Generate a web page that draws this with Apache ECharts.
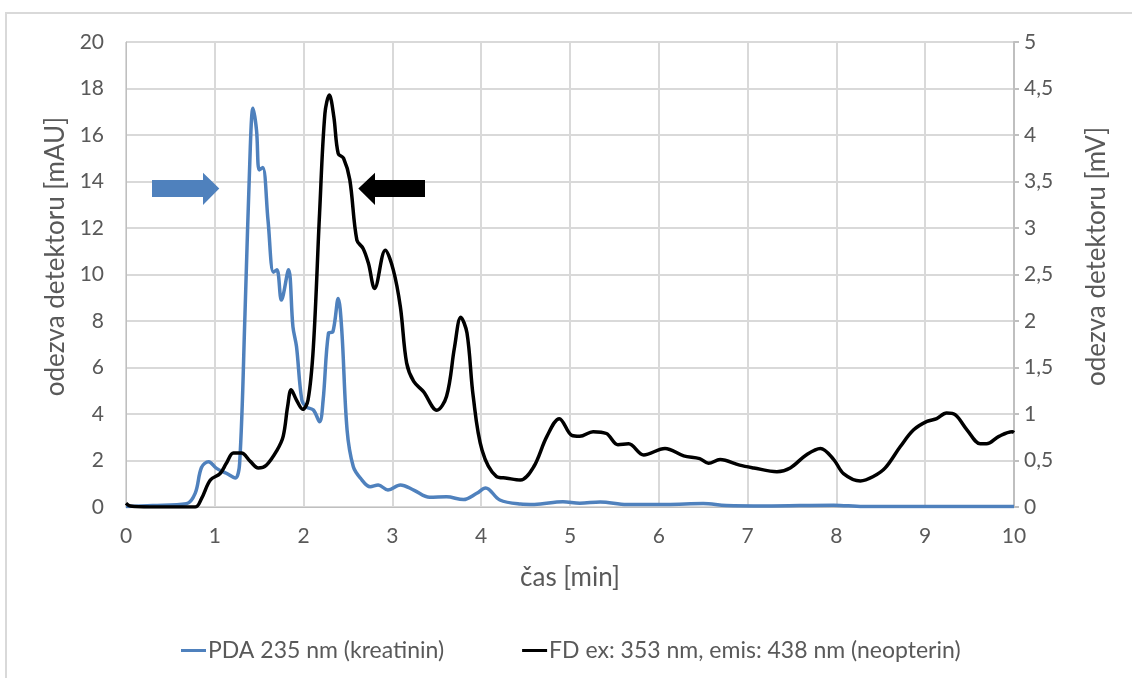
<!DOCTYPE html>
<html>
<head>
<meta charset="utf-8">
<script src="https://cdn.jsdelivr.net/npm/echarts@6/dist/echarts.min.js"></script>
<style>html,body{margin:0;padding:0;background:#fff}#c{width:1132px;height:678px}</style>
</head>
<body>
<div id="c"></div>
<script>
// ---- data ----
const pdaName = 'PDA 235 nm (kreatinin)';
const fdName = 'FD ex: 353 nm, emis: 438 nm (neopterin)';
const pdaTime = [0,0.3,0.68,0.78,0.85,0.93,1.02,1.13,1.23,1.28,1.34,1.40,1.43,1.47,1.50,1.54,1.60,1.66,1.70,1.75,1.83,1.88,1.92,1.98,2.03,2.11,2.18,2.22,2.28,2.33,2.39,2.43,2.49,2.56,2.64,2.75,2.84,2.95,3.09,3.24,3.42,3.61,3.80,3.95,4.05,4.21,4.44,4.60,4.92,5.11,5.34,5.64,6.09,6.50,6.76,7.2,7.97,8.3,10];
const pdaValues = [0.02,0.06,0.14,0.6,1.7,1.95,1.66,1.45,1.25,1.9,8.3,15.5,17.15,16.2,14.5,14.6,12.3,10.1,10.2,8.9,10.2,7.75,6.9,4.6,4.3,4.17,3.67,4.6,7.47,7.54,8.97,7.6,3.3,1.73,1.24,0.87,0.95,0.73,0.95,0.73,0.42,0.44,0.32,0.59,0.82,0.3,0.13,0.11,0.23,0.16,0.22,0.11,0.11,0.15,0.06,0.04,0.08,0.02,0.02];
const fdTime = [0,0.05,0.27,0.78,0.85,0.95,1.06,1.13,1.21,1.30,1.40,1.49,1.58,1.70,1.77,1.82,1.86,1.92,1.99,2.05,2.11,2.18,2.24,2.29,2.34,2.39,2.45,2.52,2.60,2.67,2.73,2.80,2.92,3.01,3.09,3.16,3.24,3.35,3.50,3.61,3.70,3.77,3.84,3.91,4.01,4.17,4.29,4.44,4.59,4.74,4.88,5.02,5.11,5.26,5.41,5.54,5.66,5.83,6.07,6.28,6.46,6.56,6.69,6.91,7.07,7.33,7.48,7.66,7.82,7.97,8.08,8.27,8.42,8.55,8.72,8.87,9.02,9.13,9.24,9.34,9.47,9.62,9.69,9.83,9.98,10];
const fdValues = [0.04,0.01,0,0,0.09,0.29,0.36,0.47,0.58,0.58,0.49,0.42,0.45,0.61,0.76,1.08,1.26,1.15,1.05,1.15,1.72,3.16,4.23,4.43,4.2,3.8,3.75,3.52,2.87,2.78,2.62,2.35,2.76,2.55,2.15,1.55,1.35,1.24,1.04,1.19,1.72,2.04,1.87,1.19,0.61,0.33,0.31,0.29,0.43,0.76,0.95,0.77,0.76,0.81,0.79,0.67,0.68,0.56,0.63,0.55,0.52,0.47,0.51,0.45,0.42,0.38,0.42,0.56,0.63,0.51,0.36,0.28,0.33,0.42,0.65,0.83,0.92,0.95,1.01,0.99,0.83,0.68,0.68,0.76,0.81,0.8];
const xTicks = {min: 0, max: 10, interval: 1};
const leftTicks = {min: 0, max: 20, interval: 2};
const rightTicks = {min: 0, max: 5, interval: 0.5};

const zip = (a, b) => a.map((t, i) => [t, b[i]]);
const FONT = 'Lato, "Open Sans", sans-serif';
const TXT = '#595959';
const GRID = '#d9d9d9';

const chart = echarts.init(document.getElementById('c'), null, {renderer: 'canvas'});
chart.setOption({
  animation: false,
  backgroundColor: '#fff',
  textStyle: {fontFamily: FONT},
  grid: {left: 126, right: 118, top: 42, bottom: 171, containLabel: false},
  legend: {
    top: 634, left: 176, itemWidth: 25, itemHeight: 3, itemGap: 78,
    icon: 'rect',
    textStyle: {fontFamily: FONT, fontSize: 23, color: TXT, padding: [0,0,0,-3]},
    data: [pdaName, fdName]
  },
  xAxis: {
    type: 'value', min: xTicks.min, max: xTicks.max, interval: xTicks.interval,
    name: 'čas [min]', nameLocation: 'middle', nameGap: 58,
    nameTextStyle: {fontFamily: FONT, fontSize: 26, color: TXT},
    axisLine: {show: true, lineStyle: {color: '#bfbfbf', width: 1}},
    axisTick: {show: false},
    axisLabel: {fontFamily: FONT, fontSize: 21, color: TXT, margin: 19},
    splitLine: {show: true, lineStyle: {color: GRID, width: 2}}
  },
  yAxis: [{
    type: 'value', min: leftTicks.min, max: leftTicks.max, interval: leftTicks.interval,
    name: 'odezva detektoru [mAU]', nameLocation: 'middle', nameGap: 54,
    nameTextStyle: {fontFamily: FONT, fontSize: 26, color: TXT, padding: [0,0,0,36]},
    axisLine: {show: true, lineStyle: {color: '#bfbfbf', width: 1}},
    axisTick: {show: false},
    axisLabel: {fontFamily: FONT, fontSize: 21, color: TXT, margin: 22},
    splitLine: {show: true, lineStyle: {color: GRID, width: 2}}
  }, {
    type: 'value', min: rightTicks.min, max: rightTicks.max, interval: rightTicks.interval,
    position: 'right',
    name: 'odezva detektoru [mV]', nameLocation: 'middle', nameGap: 70, nameRotate: 90,
    nameTextStyle: {fontFamily: FONT, fontSize: 26, color: TXT, padding: [0,0,0,36]},
    axisLine: {show: true, lineStyle: {color: '#bfbfbf', width: 2}},
    axisTick: {show: true, length: 5, lineStyle: {color: '#bfbfbf', width: 2}},
    axisLabel: {fontFamily: FONT, fontSize: 21, color: TXT, margin: 10,
      formatter: v => String(v).replace('.', ',')},
    splitLine: {show: false}
  }],
  series: [{
    name: pdaName, type: 'line', yAxisIndex: 0, data: zip(pdaTime, pdaValues),
    showSymbol: false, smooth: 0.35,
    lineStyle: {color: '#4f81bd', width: 3.5}, itemStyle: {color: '#4f81bd'}
  }, {
    name: fdName, type: 'line', yAxisIndex: 1, data: zip(fdTime, fdValues),
    showSymbol: false, smooth: 0.35,
    lineStyle: {color: '#000', width: 3.5}, itemStyle: {color: '#000'}
  }],
  graphic: [
    {type: 'rect', z: 100, shape: {x: 6, y: 13, width: 1140, height: 700}, style: {fill: 'none', stroke: '#d9d9d9', lineWidth: 2}, silent: true},
    {type: 'polygon', z: 100, shape: {points: [[152,180],[203,180],[203,172.7],[219.3,188.5],[203,205],[203,197],[152,197]]}, style: {fill: '#4f81bd'}},
    {type: 'polygon', z: 100, shape: {points: [[425,180],[375,180],[375,172.7],[358.3,188.5],[375,205],[375,197],[425,197]]}, style: {fill: '#000'}}
  ]
});
</script>
</body>
</html>
